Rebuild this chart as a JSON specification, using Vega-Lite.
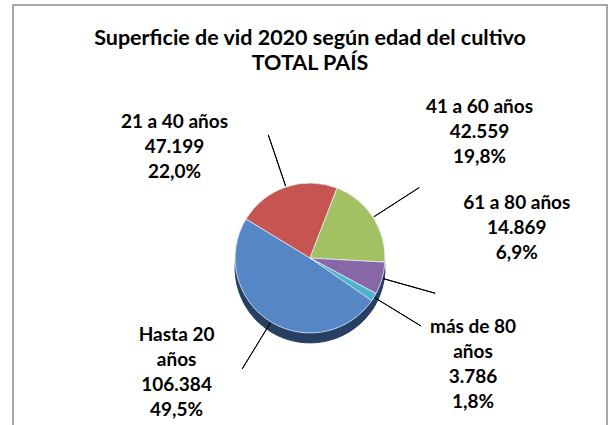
{
  "$schema": "https://vega.github.io/schema/vega-lite/v6.json",
  "width": 594,
  "height": 506,
  "autosize": {"type": "none"},
  "padding": {"left": 13, "top": 5, "right": 3, "bottom": 0},
  "background": "#ffffff",
  "title": {
    "text": ["Superficie de vid 2020 según edad del cultivo", "TOTAL PAÍS"],
    "font": "Lato",
    "fontSize": 21.5,
    "fontWeight": "bold",
    "color": "#000000",
    "anchor": "middle",
    "baseline": "top",
    "lineHeight": 25,
    "offset": -70
  },
  "config": {
    "view": {"stroke": null},
    "locale": {"number": {"decimal": ",", "thousands": ".", "grouping": [3], "currency": ["", " €"]}}
  },
  "data": {
    "values": [
      {"edad": "Hasta 20 años", "superficie": 106384, "porcentaje": 49.5},
      {"edad": "21 a 40 años", "superficie": 47199, "porcentaje": 22.0},
      {"edad": "41 a 60 años", "superficie": 42559, "porcentaje": 19.8},
      {"edad": "61 a 80 años", "superficie": 14869, "porcentaje": 6.9},
      {"edad": "más de 80 años", "superficie": 3786, "porcentaje": 1.8}
    ]
  },
  "transform": [
    {"window": [{"op": "row_number", "as": "orden"}]},
    {"stack": "superficie", "groupby": [], "sort": [{"field": "orden", "order": "ascending"}], "as": ["s0", "s1"]},
    {"calculate": "(datum.s0 + datum.s1) / 2", "as": "mid"},
    {"calculate": "(test(/ a /, datum.edad) ? datum.edad : replace(datum.edad, ' años', '\\naños')) + '\\n' + format(datum.superficie, ',.0f') + '\\n' + format(datum.porcentaje, '.1f') + '%'", "as": "etiqueta"}
  ],
  "layer": [
    {
      "transform": [{"filter": "datum.orden == 1"}],
      "mark": {"type": "rect", "fill": "transparent", "stroke": "#8c8c8c", "strokeWidth": 1.5},
      "encoding": {}
    },
    {
      "mark": {"type": "arc", "outerRadius": 75, "yOffset": 10, "fill": "#263f63", "stroke": "#263f63", "strokeWidth": 1},
      "encoding": {
        "theta": {"field": "s0", "type": "quantitative", "stack": null, "scale": {"range": [2.1206, 8.4038]}},
        "theta2": {"field": "s1"}
      }
    },
    {
      "mark": {"type": "arc", "outerRadius": 75, "stroke": "#e8eef6", "strokeWidth": 0.8},
      "encoding": {
        "theta": {"field": "s0", "type": "quantitative", "stack": null},
        "theta2": {"field": "s1"},
        "color": {
          "field": "edad",
          "type": "nominal",
          "scale": {
            "domain": ["Hasta 20 años", "21 a 40 años", "41 a 60 años", "61 a 80 años", "más de 80 años"],
            "range": ["#5586c6", "#c65552", "#a2c162", "#8867a9", "#4fb3cd"]
          },
          "legend": null
        }
      }
    },
    {
      "mark": {"type": "arc", "outerRadius": 130, "innerRadius": 76, "filled": false, "stroke": "#000000", "strokeWidth": 1},
      "encoding": {
        "theta": {"field": "mid", "type": "quantitative", "stack": null},
        "theta2": {"field": "mid"}
      }
    },
    {
      "transform": [{"filter": "datum.edad == 'Hasta 20 años'"}],
      "mark": {"type": "text", "font": "Lato", "fontSize": 19, "fontWeight": "bold", "lineHeight": 25, "lineBreak": "\n", "align": "center", "baseline": "middle", "color": "#000000", "radius": 154, "thetaOffset": 0.499},
      "encoding": {"theta": {"field": "mid", "type": "quantitative", "stack": null}, "text": {"field": "etiqueta"}}
    },
    {
      "transform": [{"filter": "datum.edad == '21 a 40 años'"}],
      "mark": {"type": "text", "font": "Lato", "fontSize": 19, "fontWeight": "bold", "lineHeight": 25, "lineBreak": "\n", "align": "center", "baseline": "middle", "color": "#000000", "radius": 192, "thetaOffset": -0.457},
      "encoding": {"theta": {"field": "mid", "type": "quantitative", "stack": null}, "text": {"field": "etiqueta"}}
    },
    {
      "transform": [{"filter": "datum.edad == '41 a 60 años'"}],
      "mark": {"type": "text", "font": "Lato", "fontSize": 19, "fontWeight": "bold", "lineHeight": 25, "lineBreak": "\n", "align": "center", "baseline": "middle", "color": "#000000", "radius": 227, "thetaOffset": -0.155},
      "encoding": {"theta": {"field": "mid", "type": "quantitative", "stack": null}, "text": {"field": "etiqueta"}}
    },
    {
      "transform": [{"filter": "datum.edad == '61 a 80 años'"}],
      "mark": {"type": "text", "font": "Lato", "fontSize": 19, "fontWeight": "bold", "lineHeight": 25, "lineBreak": "\n", "align": "center", "baseline": "middle", "color": "#000000", "radius": 214, "thetaOffset": -0.535},
      "encoding": {"theta": {"field": "mid", "type": "quantitative", "stack": null}, "text": {"field": "etiqueta"}}
    },
    {
      "transform": [{"filter": "datum.edad == 'más de 80 años'"}],
      "mark": {"type": "text", "font": "Lato", "fontSize": 19, "fontWeight": "bold", "lineHeight": 25, "lineBreak": "\n", "align": "center", "baseline": "middle", "color": "#000000", "radius": 177, "thetaOffset": -0.15},
      "encoding": {"theta": {"field": "mid", "type": "quantitative", "stack": null}, "text": {"field": "etiqueta"}}
    }
  ]
}
